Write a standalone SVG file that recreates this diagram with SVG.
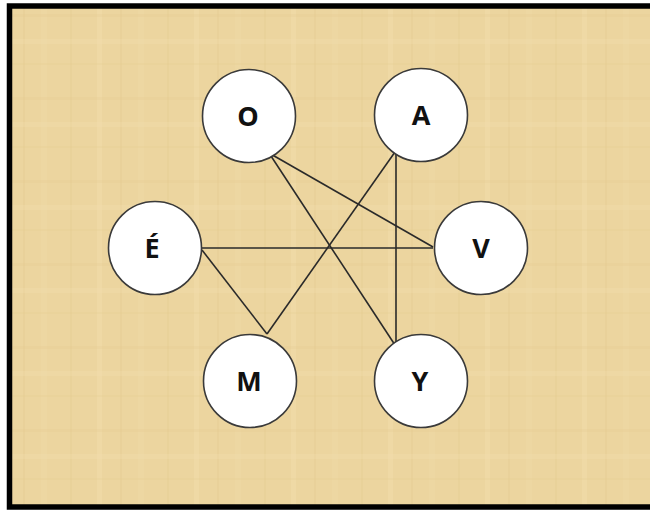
<svg xmlns="http://www.w3.org/2000/svg" width="650" height="512" viewBox="0 0 650 512">
  <defs>
    <pattern id="papyrus" x="0" y="0" width="97" height="83" patternUnits="userSpaceOnUse">
      <rect width="97" height="83" fill="#ECD59F"/>
      <rect x="0" y="0" width="5" height="83" fill="#F2DFAF" opacity="0.35"/>
      <rect x="23" y="0" width="2" height="83" fill="#E2C98E" opacity="0.3"/>
      <rect x="41" y="0" width="6" height="83" fill="#F1DDAA" opacity="0.3"/>
      <rect x="70" y="0" width="2" height="83" fill="#E3CA90" opacity="0.3"/>
      <rect x="0" y="14" width="97" height="3" fill="#E2C98E" opacity="0.25"/>
      <rect x="0" y="39" width="97" height="5" fill="#F2E0B2" opacity="0.3"/>
      <rect x="0" y="63" width="97" height="2" fill="#E3CA90" opacity="0.25"/>
    </pattern>
    <style>
      .node circle { fill: #FFFFFF; stroke: #3A3A3A; stroke-width: 1.6; }
      .node text { font-family: "Open Sans", "Liberation Sans", sans-serif; font-weight: bold; font-size: 27px; fill: #111111; text-anchor: middle; }
      .edges line { stroke: #2A2A2A; stroke-width: 1.6; }
    </style>
  </defs>

  <rect x="0" y="0" width="650" height="512" fill="#FFFFFF"/>
  <rect x="9.5" y="6" width="650" height="501" fill="url(#papyrus)" stroke="#000000" stroke-width="5.5"/>

  <g id="connectors" class="edges">
    <line x1="269" y1="153" x2="433" y2="247"/>
    <line x1="269" y1="153" x2="395" y2="345"/>
    <line x1="395" y1="152" x2="267" y2="334"/>
    <line x1="396" y1="152" x2="396" y2="344"/>
    <line x1="202" y1="248" x2="433" y2="248"/>
    <line x1="202" y1="250" x2="267" y2="334"/>
  </g>

  <g id="node-O" class="node">
    <circle cx="249" cy="116" r="46.5"/>
    <text x="248" y="126">O</text>
  </g>
  <g id="node-A" class="node">
    <circle cx="421" cy="115" r="46.5"/>
    <text x="421" y="125">A</text>
  </g>
  <g id="node-E" class="node">
    <circle cx="155" cy="248" r="46.5"/>
    <text x="152" y="258">É</text>
  </g>
  <g id="node-V" class="node">
    <circle cx="481" cy="248" r="46.5"/>
    <text x="481" y="258">V</text>
  </g>
  <g id="node-M" class="node">
    <circle cx="250" cy="381" r="46.5"/>
    <text x="249" y="391">M</text>
  </g>
  <g id="node-Y" class="node">
    <circle cx="421" cy="381" r="46.5"/>
    <text x="420" y="391">Y</text>
  </g>
</svg>
